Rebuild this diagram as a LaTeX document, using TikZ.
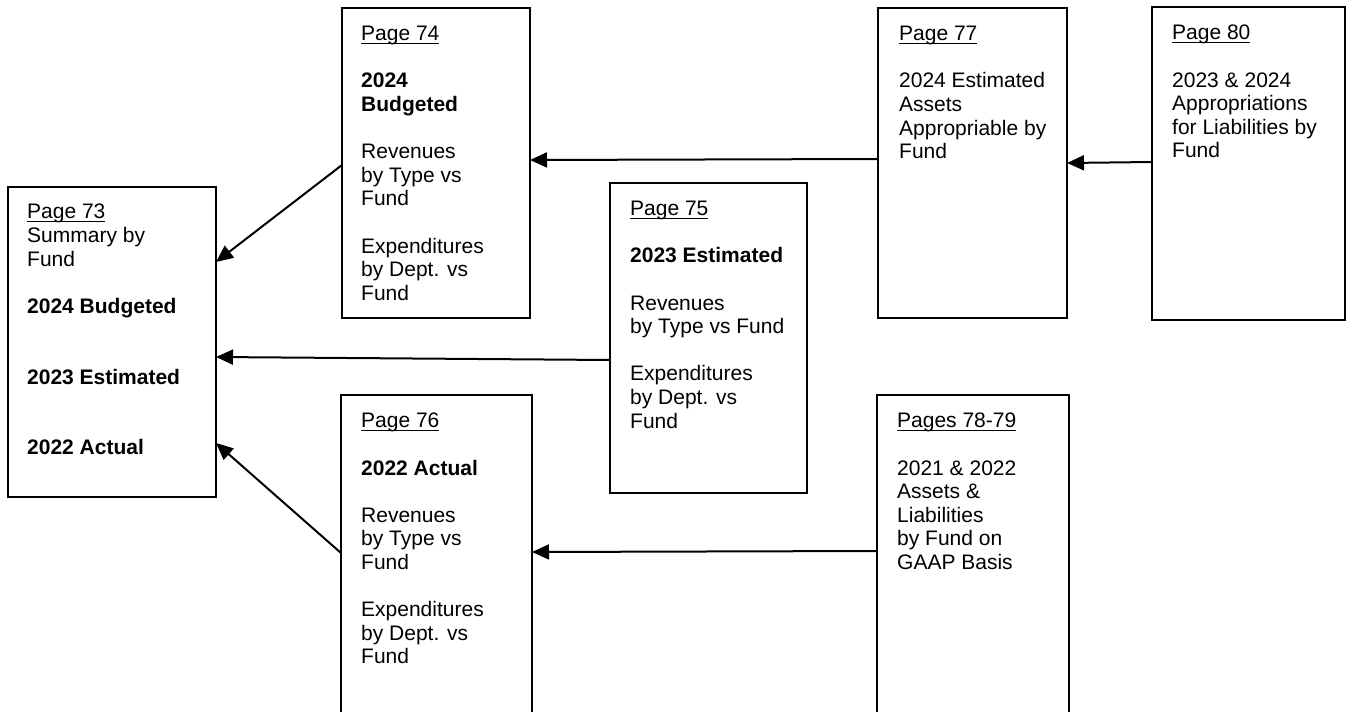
\documentclass[tikz,border=0pt]{standalone}
\usepackage{fontspec}
\setmainfont{Liberation Sans}
\usetikzlibrary{arrows.meta,calc}
\newcommand\pgul[1]{\setbox0\hbox{#1}\rlap{\rule[-3.2pt]{\wd0}{1.3pt}}#1}
\tikzset{
  pbox/.style={draw, line width=2pt, rectangle, inner sep=0pt, outer sep=0pt},
  txt/.style={anchor=north west, inner sep=0pt, align=left, font=\fontsize{21}{23.6}\selectfont},
  arr/.style={line width=2pt, -{Triangle[length=17pt,width=15pt]}},
}
\begin{document}
\begin{tikzpicture}[x=1pt,y=-1pt]
\useasboundingbox (0,0) rectangle (1347,712);
\fill[white] (0,0) rectangle (1347,712);
\clip (0,0) rectangle (1347,712);
% boxes
\node[pbox, minimum width=208pt, minimum height=310pt] (b73) at (112,342) {};
\node[pbox, minimum width=188pt, minimum height=310pt] (b74) at (436,163) {};
\node[pbox, minimum width=197pt, minimum height=310pt] (b75) at (708.5,338) {};
\node[pbox, minimum width=191pt, minimum height=330pt] (b76) at (436.5,560) {};
\node[pbox, minimum width=189pt, minimum height=310pt] (b77) at (972.5,163) {};
\node[pbox, minimum width=193pt, minimum height=313pt] (b80) at (1248.5,163.5) {};
\node[pbox, minimum width=192pt, minimum height=330pt] (b7879) at (973,560) {};
% texts
\node[txt] (t73) at ($(b73.north west)+(19,17)$) {\pgul{Page 73}\\Summary by\\Fund\\[23.6pt]\textbf{2024 Budgeted}\\[47.2pt]\textbf{2023 Estimated}\\[47.2pt]\textbf{2022 Actual}};
\node[txt] (t74) at ($(b74.north west)+(19,18)$) {\pgul{Page 74}\\[23.6pt]\textbf{2024}\\\textbf{Budgeted}\\[23.6pt]Revenues\\by Type vs\\Fund\\[23.6pt]Expenditures\\by Dept. vs\\Fund};
\node[txt] (t75) at ($(b75.north west)+(20,18)$) {\pgul{Page 75}\\[23.6pt]\textbf{2023 Estimated}\\[23.6pt]Revenues\\by Type vs Fund\\[23.6pt]Expenditures\\by Dept. vs\\Fund};
\node[txt] (t76) at ($(b76.north west)+(20,18)$) {\pgul{Page 76}\\[23.6pt]\textbf{2022 Actual}\\[23.6pt]Revenues\\by Type vs\\Fund\\[23.6pt]Expenditures\\by Dept. vs\\Fund};
\node[txt] (t77) at ($(b77.north west)+(21,18)$) {\pgul{Page 77}\\[23.6pt]2024 Estimated\\Assets\\Appropriable by\\Fund};
\node[txt] (t80) at ($(b80.north west)+(20,18)$) {\pgul{Page 80}\\[23.6pt]2023 \& 2024\\Appropriations\\for Liabilities by\\Fund};
\node[txt] (t7879) at ($(b7879.north west)+(20,18)$) {\pgul{Pages 78-79}\\[23.6pt]2021 \& 2022\\Assets \&\\Liabilities\\by Fund on\\GAAP Basis};
% connectors
\draw[arr] ($(b74.west)+(0,2)$) -- ($(b73.east)+(0,-80)$);
\draw[arr] ($(b75.west)+(0,22)$) -- ($(b73.east)+(0,15)$);
\draw[arr] ($(b76.west)+(0,-7)$) -- ($(b73.east)+(0,101)$);
\draw[arr] ($(b77.west)+(0,-4)$) -- ($(b74.east)+(0,-3)$);
\draw[arr] ($(b80.west)+(0,-1.5)$) -- ($(b77.east)+(0,0)$);
\draw[arr] ($(b7879.west)+(0,-9)$) -- ($(b76.east)+(0,-8)$);
\end{tikzpicture}
\end{document}
